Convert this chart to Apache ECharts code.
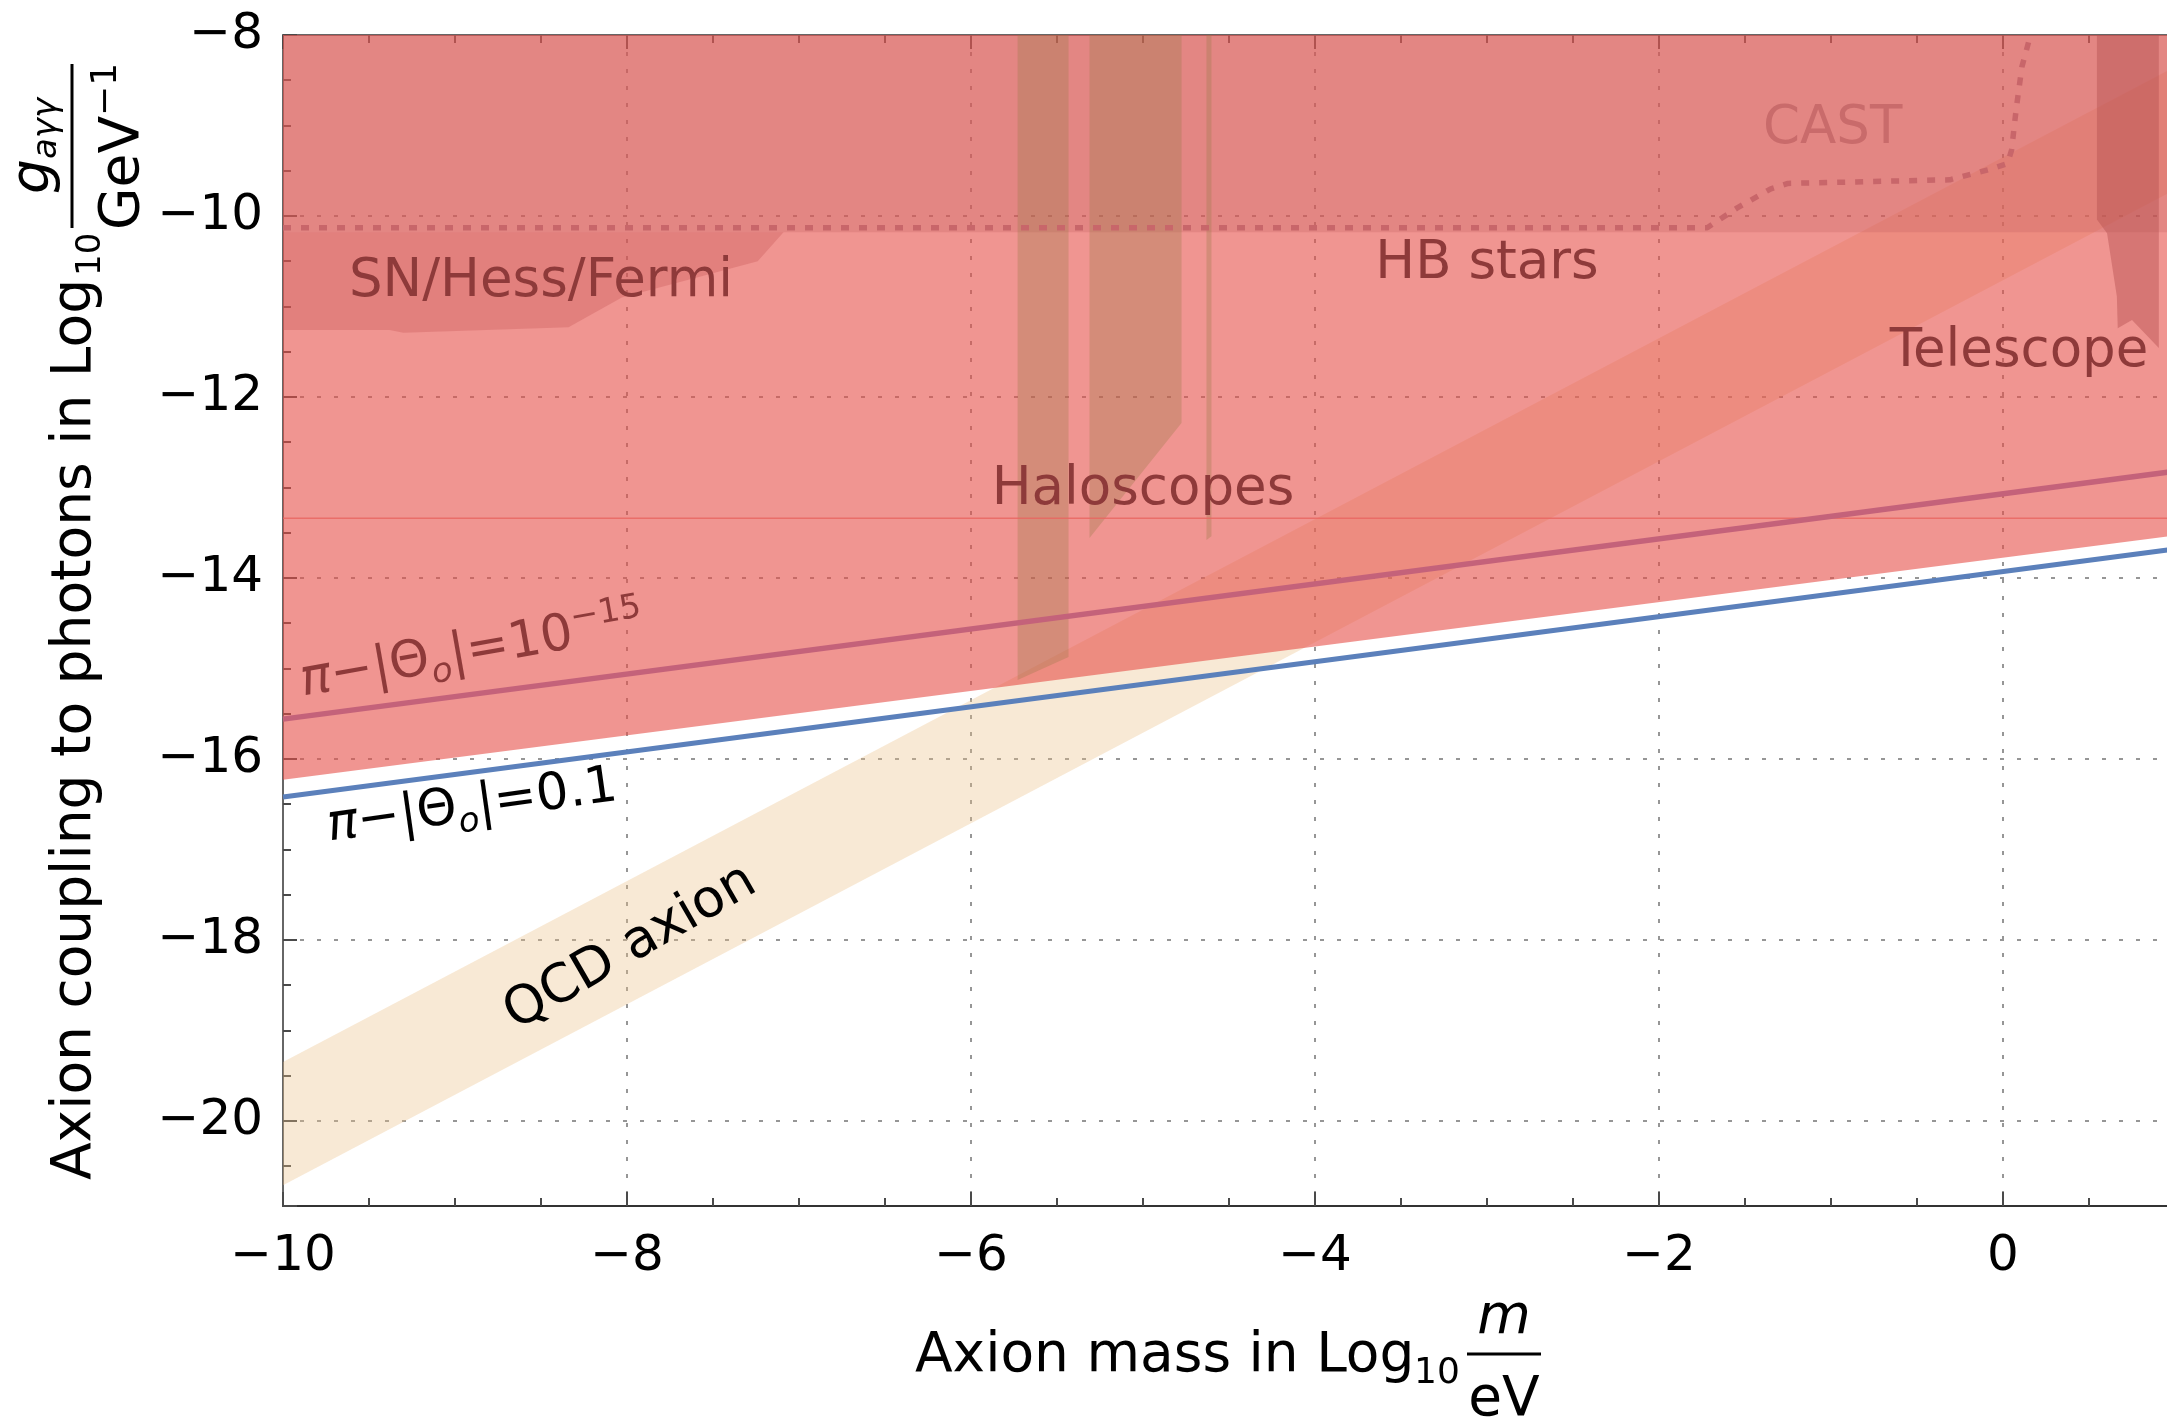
<!DOCTYPE html>
<html>
<head>
<meta charset="utf-8">
<script src="https://cdn.jsdelivr.net/npm/echarts@6/dist/echarts.min.js"></script>
<style>
html,body{margin:0;padding:0;background:#ffffff;overflow:hidden;width:2167px;height:1420px;}
#chart{width:2350px;height:1420px;}
</style>
</head>
<body>
<div id="chart"></div>
<script>
// ---------------- data (x = Log10 m/eV, y = Log10 g/GeV^-1) ----------------
const xTickValues = [-10, -8, -6, -4, -2, 0];
const yTickValues = [-8, -10, -12, -14, -16, -18, -20];

const qcdBand        = [[-10, -19.35], [1.0, -8.35], [1.0, -9.71], [-10, -20.71]];
const excludedRegion = [[-10, -16.23], [1.0, -13.53], [1.0, -8], [-10, -8]];
const hbRegion       = [[-10, -10.18], [1.0, -10.18], [1.0, -8], [-10, -8]];
const snRegion       = [[-10, -10.18], [-7.09, -10.18], [-7.24, -10.5], [-8.03, -10.9], [-8.34, -11.23],
                        [-9.30, -11.29], [-9.38, -11.26], [-10, -11.26]];
const haloscopeBand1 = [[-5.729, -8], [-5.433, -8], [-5.433, -14.873], [-5.729, -15.127]];
const haloscopeBand2 = [[-5.311, -8], [-4.776, -8], [-4.776, -12.287], [-5.311, -13.558]];
const haloscopeBand3 = [[-4.631, -8], [-4.602, -8], [-4.602, -13.54], [-4.631, -13.58]];
const telescopeRegion = [[0.546, -8], [0.906, -8], [0.906, -11.46], [0.750, -11.15], [0.667, -11.24],
                         [0.662, -10.89], [0.605, -10.19], [0.546, -10.04]];
const haloscopeLine  = [[-10, -13.34], [1.0, -13.34]];
const hbCastLimit    = [[-10, -10.13], [-1.72, -10.13], [-1.545, -9.91], [-1.35, -9.70], [-1.25, -9.64],
                        [-0.31, -9.60], [-0.087, -9.49], [0.027, -9.42], [0.05, -9.27], [0.076, -8.83],
                        [0.11, -8.35], [0.15, -8.07], [0.17, -8.04]];
const theta1e15Line  = [[-10, -15.56], [1.0, -12.82]];
const theta01Line    = [[-10, -16.42], [1.0, -13.68]];

// label anchors (data coordinates)
const labelSN        = [-8.50, -10.73];
const labelHalo      = [-5.00, -13.03];
const labelHB        = [-3.00, -10.53];
const labelCAST      = [-0.99, -9.04];
const labelTele      = [0.093, -11.51];
const labelTheta15   = [-8.90, -14.82];
const labelTheta01   = [-8.90, -16.53];
const labelQCD       = [-7.98, -18.09];

// ---------------- helpers ----------------
const FONT = 'DejaVu Sans';
const toAxis = p => [p[0], -p[1]];   // y axis stores -Log10 g (inverse axis)

function polygonSeries(name, pts, fill) {
  return {
    name: name, type: 'custom', coordinateSystem: 'cartesian2d',
    xAxisIndex: 0, yAxisIndex: 0, silent: true, animation: false, clip: true,
    data: [toAxis(pts[0])],
    renderItem: function (params, api) {
      return {
        type: 'polygon',
        shape: { points: pts.map(p => api.coord(toAxis(p))) },
        style: { fill: fill }
      };
    }
  };
}
function lineSeries(name, pts, color, width, dash) {
  return {
    name: name, type: 'line', xAxisIndex: 0, yAxisIndex: 0,
    data: pts.map(toAxis), showSymbol: false, symbol: 'none', silent: true,
    animation: false, clip: true,
    lineStyle: { color: color, width: width, type: dash || 'solid', cap: 'butt' }
  };
}
function textSeries(name, pos, style, rotationDeg) {
  return {
    name: name, type: 'custom', coordinateSystem: 'cartesian2d',
    xAxisIndex: 0, yAxisIndex: 0, silent: true, animation: false, clip: false, z: 5,
    data: [toAxis(pos)],
    renderItem: function (params, api) {
      const c = api.coord([api.value(0), api.value(1)]);
      return {
        type: 'text', x: c[0], y: c[1], rotation: (rotationDeg || 0) * Math.PI / 180,
        style: Object.assign({ align: 'center', verticalAlign: 'middle' }, style)
      };
    }
  };
}
const annotColor = '#8E3A3A';
function plainStyle(text, size, color) {
  return { text: text, font: size + 'px "' + FONT + '"', fill: color };
}
function thetaRich(color) {
  return {
    p: { fontSize: 51, fontFamily: FONT, fontStyle: 'italic', fill: color },
    m: { fontSize: 51, fontFamily: FONT, fill: color },
    sub: { fontSize: 34, fontFamily: FONT, fontStyle: 'italic', fill: color, verticalAlign: 'top', padding: [30, 0, 0, 0] },
    sup: { fontSize: 34, fontFamily: FONT, fill: color, verticalAlign: 'top' }
  };
}

// ---------------- chart ----------------
const chart = echarts.init(document.getElementById('chart'), null, { renderer: 'canvas', width: 2350, height: 1420 });

const axisGray = '#4a4a4a';
const gridLine = { color: '#969696', width: 2, type: [4, 13] };
const option = {
  backgroundColor: '#ffffff',
  animation: false,
  textStyle: { fontFamily: FONT },
  grid: { left: 283, top: 35, width: 2065, height: 1171, containLabel: false },
  xAxis: [
    {
      type: 'value', position: 'bottom', min: -10, max: 2, interval: 2,
      axisLine: { show: true, onZero: false, lineStyle: { color: '#333', width: 2 } },
      axisTick: { show: true, inside: true, length: 14, lineStyle: { color: axisGray, width: 2 } },
      minorTick: { show: true, splitNumber: 4, length: 8, lineStyle: { color: axisGray, width: 2 } },
      axisLabel: {
        show: true, margin: 26, fontSize: 50, color: '#000', fontFamily: FONT,
        formatter: v => (xTickValues.indexOf(v) >= 0 ? (v < 0 ? '\u2212' + (-v) : String(v)) : '')
      },
      splitLine: { show: true, lineStyle: gridLine }
    },
    {
      type: 'value', position: 'top', min: -10, max: 2, interval: 2,
      axisLine: { show: true, onZero: false, lineStyle: { color: '#666', width: 2 } },
      axisTick: { show: true, inside: true, length: 14, lineStyle: { color: axisGray, width: 2 } },
      minorTick: { show: true, splitNumber: 4, length: 8, lineStyle: { color: axisGray, width: 2 } },
      axisLabel: { show: false },
      splitLine: { show: false }
    }
  ],
  yAxis: [
    {
      type: 'value', inverse: true, min: 8, max: 20.94, interval: 2,
      axisLine: { show: true, onZero: false, lineStyle: { color: '#666', width: 2 } },
      axisTick: { show: true, inside: true, length: 14, lineStyle: { color: axisGray, width: 2 } },
      minorTick: { show: true, splitNumber: 4, length: 8, lineStyle: { color: axisGray, width: 2 } },
      axisLabel: {
        show: true, margin: 20, fontSize: 50, color: '#000', fontFamily: FONT, showMaxLabel: false,
        formatter: v => (yTickValues.indexOf(-v) >= 0 ? '\u2212' + v : '')
      },
      splitLine: { show: true, lineStyle: gridLine }
    }
  ],
  series: [
    polygonSeries('QCD axion', qcdBand, 'rgba(235,192,135,0.35)'),
    polygonSeries('Excluded', excludedRegion, 'rgba(230,78,72,0.6)'),
    polygonSeries('HB stars', hbRegion, 'rgba(200,100,100,0.3)'),
    polygonSeries('SN/Hess/Fermi', snRegion, 'rgba(200,90,90,0.35)'),
    polygonSeries('Haloscopes 1', haloscopeBand1, 'rgba(156,120,72,0.33)'),
    polygonSeries('Haloscopes 2', haloscopeBand2, 'rgba(156,120,72,0.33)'),
    polygonSeries('Haloscopes 3', haloscopeBand3, 'rgba(156,120,72,0.33)'),
    polygonSeries('Telescope', telescopeRegion, 'rgba(180,80,80,0.44)'),
    lineSeries('Haloscope line', haloscopeLine, 'rgba(232,100,95,0.8)', 1.5),
    lineSeries('HB/CAST', hbCastLimit, '#C8666A', 5.5, [8, 10]),
    lineSeries('theta 1e-15', theta1e15Line, '#C4627A', 5.5),
    lineSeries('theta 0.1', theta01Line, '#5B80BB', 5),
    textSeries('lblSN', labelSN, plainStyle('SN/Hess/Fermi', 53, annotColor)),
    textSeries('lblHalo', labelHalo, plainStyle('Haloscopes', 53, annotColor)),
    textSeries('lblHB', labelHB, plainStyle('HB stars', 53, annotColor)),
    textSeries('lblCAST', labelCAST, plainStyle('CAST', 53, '#C96B6B')),
    textSeries('lblTele', labelTele, plainStyle('Telescope', 53, annotColor)),
    textSeries('lblTheta15', labelTheta15, {
      text: '{p|\u03c0}{m|\u2212|\u0398}{sub|o}{m||=10}{sup|\u221215}',
      rich: thetaRich(annotColor)
    }, 10),
    textSeries('lblTheta01', labelTheta01, {
      text: '{p|\u03c0}{m|\u2212|\u0398}{sub|o}{m||=0.1}',
      rich: thetaRich('#000')
    }, 8),
    textSeries('lblQCD', labelQCD, plainStyle('QCD axion', 53, '#000'), 30)
  ],
  graphic: [
    // y-axis title (rotated)
    {
      type: 'group', x: 92, y: 1180, rotation: Math.PI / 2, silent: true,
      children: [
        { type: 'text', x: 0, y: -16.5, style: { text: 'Axion coupling to photons in Log', font: '55px "' + FONT + '"', fill: '#000', align: 'left', verticalAlign: 'middle' } },
        { type: 'text', x: 904, y: -1, style: { text: '10', font: '34px "' + FONT + '"', fill: '#000', align: 'left', verticalAlign: 'middle' } },
        { type: 'rect', shape: { x: 952, y: -21.5, width: 164, height: 3 }, style: { fill: '#000' } },
        { type: 'text', x: 986, y: -57.5, style: { text: 'g', font: 'italic 55px "' + FONT + '"', fill: '#000', align: 'left', verticalAlign: 'middle' } },
        { type: 'text', x: 1021, y: -45, style: { text: 'a\u03b3\u03b3', font: 'italic 34px "' + FONT + '"', fill: '#000', align: 'left', verticalAlign: 'middle' } },
        { type: 'text', x: 950, y: 31.5, style: { text: 'GeV', font: '55px "' + FONT + '"', fill: '#000', align: 'left', verticalAlign: 'middle' } },
        { type: 'text', x: 1064, y: 15, style: { text: '\u22121', font: '36px "' + FONT + '"', fill: '#000', align: 'left', verticalAlign: 'middle' } }
      ]
    },
    // x-axis title
    { type: 'text', x: 915, y: 1356.5, silent: true, style: { text: 'Axion mass in Log', font: '55px "' + FONT + '"', fill: '#000', align: 'left', verticalAlign: 'middle' } },
    { type: 'text', x: 1414, y: 1374, silent: true, style: { text: '10', font: '36px "' + FONT + '"', fill: '#000', align: 'left', verticalAlign: 'middle' } },
    { type: 'rect', silent: true, shape: { x: 1467, y: 1352.5, width: 74, height: 3 }, style: { fill: '#000' } },
    { type: 'text', x: 1504, y: 1318.5, silent: true, style: { text: 'm', font: 'italic 55px "' + FONT + '"', fill: '#000', align: 'center', verticalAlign: 'middle' } },
    { type: 'text', x: 1504, y: 1400.5, silent: true, style: { text: 'eV', font: '55px "' + FONT + '"', fill: '#000', align: 'center', verticalAlign: 'middle' } }
  ]
};
chart.setOption(option);
</script>
</body>
</html>
